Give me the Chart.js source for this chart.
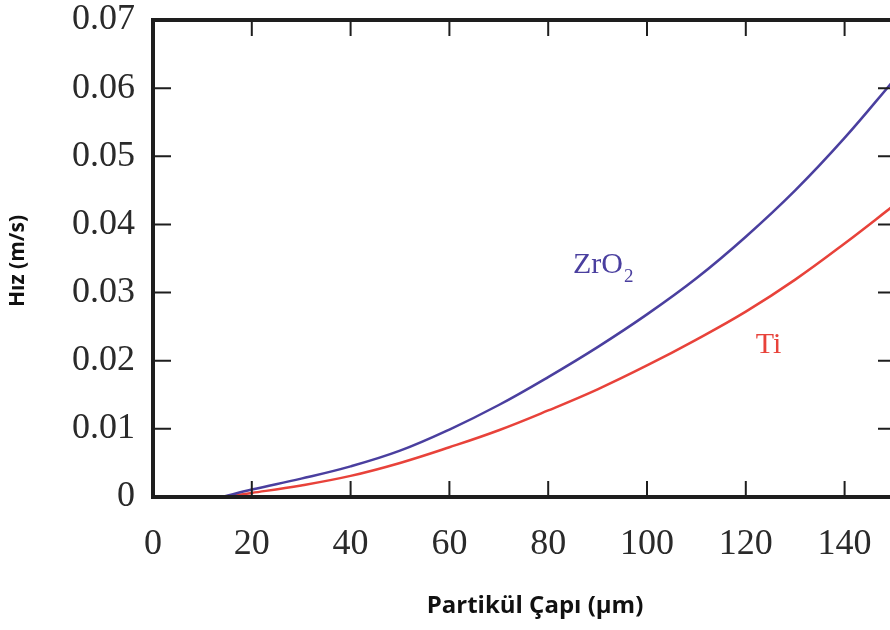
<!DOCTYPE html>
<html>
<head>
<meta charset="utf-8">
<script src="https://cdn.jsdelivr.net/npm/chart.js@4.4.0/dist/chart.umd.min.js"></script>
<style>
  html, body { margin: 0; padding: 0; background: #fff; }
  #wrap { width: 890px; height: 630px; overflow: hidden; }
</style>
</head>
<body>
<div id="wrap"><canvas id="myChart" width="900" height="630"></canvas></div>
<script>
// particle diameter (µm) and velocity (m/s)
var diameters = [14, 20, 30, 40, 50, 60, 70, 80, 90, 100, 110, 120, 130, 140, 150];
var zro2Speed = [0, 0.0011, 0.0027, 0.0045, 0.0068, 0.0099, 0.0135, 0.0176, 0.0220, 0.0268, 0.0321, 0.0382, 0.0450, 0.0527, 0.0612];
var tiSpeed = [0, 0.0006, 0.0017, 0.0031, 0.0050, 0.0073, 0.0098, 0.0127, 0.0158, 0.0193, 0.0231, 0.0272, 0.0319, 0.0372, 0.0428];

var xTicks = [0, 20, 40, 60, 80, 100, 120, 140];
var yTicks = [0, 0.01, 0.02, 0.03, 0.04, 0.05, 0.06, 0.07];
var yTickLabels = ["0", "0.01", "0.02", "0.03", "0.04", "0.05", "0.06", "0.07"];

var blue = "#4a3f9f";
var red = "#e8423a";

function toPoints(xs, ys) {
  return xs.map(function (x, i) {
    return { x: x, y: ys[i] };
  });
}

// box frame with inward ticks, curve labels, axis titles
var framePlugin = {
  id: "frame",
  afterDatasetsDraw: function (chart) {
    var ctx = chart.ctx;
    var a = chart.chartArea;
    var xs = chart.scales.x;
    var ys = chart.scales.y;
    ctx.save();

    ctx.strokeStyle = "#1e1e1e";
    ctx.lineWidth = 2;
    xTicks.forEach(function (v) {
      var px = xs.getPixelForValue(v);
      ctx.beginPath();
      ctx.moveTo(px, a.bottom);
      ctx.lineTo(px, a.bottom - 16);
      ctx.moveTo(px, a.top);
      ctx.lineTo(px, a.top + 16);
      ctx.stroke();
    });
    yTicks.forEach(function (v) {
      var py = ys.getPixelForValue(v);
      ctx.beginPath();
      ctx.moveTo(a.left, py);
      ctx.lineTo(a.left + 18, py);
      ctx.moveTo(a.right, py);
      ctx.lineTo(a.right - 16, py);
      ctx.stroke();
    });

    ctx.lineWidth = 4;
    ctx.strokeRect(a.left, a.top, a.right - a.left, a.bottom - a.top);

    // curve labels
    ctx.textBaseline = "alphabetic";
    ctx.textAlign = "left";
    ctx.fillStyle = blue;
    ctx.font = "30px 'Liberation Serif'";
    var zx = xs.getPixelForValue(85);
    var zy = ys.getPixelForValue(0.0329);
    ctx.fillText("ZrO", zx, zy);
    var w = ctx.measureText("ZrO").width;
    ctx.font = "19px 'Liberation Serif'";
    ctx.fillText("2", zx + w + 1, zy + 9);

    ctx.fillStyle = red;
    ctx.font = "30px 'Liberation Serif'";
    ctx.fillText("Ti", xs.getPixelForValue(122), ys.getPixelForValue(0.0212));

    // axis titles
    ctx.fillStyle = "#111";
    ctx.textAlign = "center";
    ctx.textBaseline = "middle";
    ctx.font = "bold 24px 'Open Sans'";
    ctx.fillText("Partikül Çapı (µm)", 535, 606);
    ctx.font = "bold 21px 'Open Sans'";
    ctx.translate(18, 261);
    ctx.rotate(-Math.PI / 2);
    ctx.fillText("Hız (m/s)", 0, 0);

    ctx.restore();
  },
};

var ctx = document.getElementById("myChart").getContext("2d");
var myChart = new Chart(ctx, {
  type: "line",
  data: {
    datasets: [
      {
        label: "ZrO2",
        data: toPoints(diameters, zro2Speed),
        borderColor: blue,
        borderWidth: 2.5,
        pointRadius: 0,
        tension: 0.4,
      },
      {
        label: "Ti",
        data: toPoints(diameters, tiSpeed),
        borderColor: red,
        borderWidth: 2.5,
        pointRadius: 0,
        tension: 0.4,
      },
    ],
  },
  options: {
    responsive: false,
    animation: false,
    layout: { padding: { top: 20, right: 6, bottom: 0, left: 0 } },
    plugins: {
      legend: { display: false },
      tooltip: { enabled: false },
    },
    scales: {
      x: {
        type: "linear",
        min: 0,
        max: 150,
        afterBuildTicks: function (scale) {
          scale.ticks = xTicks.map(function (v) {
            return { value: v };
          });
        },
        afterFit: function (scale) {
          scale.height = 133;
          scale.paddingLeft = 0;
          scale.paddingRight = 0;
        },
        grid: { display: false },
        border: { display: false },
        ticks: {
          padding: 18,
          color: "#2a2a2a",
          font: { family: "'Liberation Serif'", size: 36 },
        },
      },
      y: {
        type: "linear",
        min: 0,
        max: 0.07,
        afterBuildTicks: function (scale) {
          scale.ticks = yTicks.map(function (v) {
            return { value: v };
          });
        },
        afterFit: function (scale) {
          scale.width = 153;
          scale.paddingTop = 0;
          scale.paddingBottom = 0;
        },
        grid: { display: false },
        border: { display: false },
        ticks: {
          padding: 10,
          color: "#2a2a2a",
          font: { family: "'Liberation Serif'", size: 36 },
          callback: function (value, index) {
            return yTickLabels[index];
          },
        },
      },
    },
  },
  plugins: [framePlugin],
});
</script>
</body>
</html>
